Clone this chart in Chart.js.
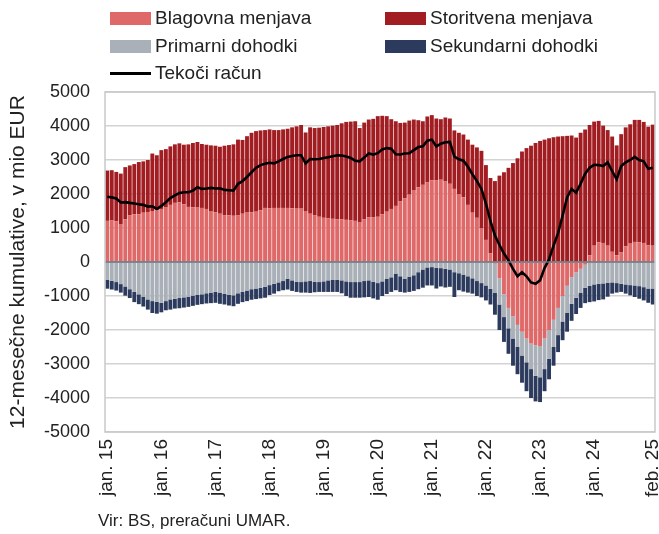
<!DOCTYPE html>
<html>
<head>
<meta charset="utf-8">
<script src="https://cdn.jsdelivr.net/npm/chart.js@4.4.1/dist/chart.umd.min.js"></script>
<style>
  html, body { margin: 0; padding: 0; background: #fff; }
  #wrap { position: relative; width: 659px; height: 534px; font-family: "Liberation Sans", Arial, sans-serif; color: #222; }
  #myChart { position: absolute; left: 0; top: 0; }
  .lg { position: absolute; font-size: 19px; line-height: 22px; white-space: nowrap; }
  .box { position: absolute; width: 41px; height: 13px; }
  .ln { position: absolute; width: 41px; height: 3px; background: #000; }
  #src { position: absolute; left: 98px; top: 511px; font-size: 17px; white-space: nowrap; }
</style>
</head>
<body>
<div id="wrap">
  <canvas id="myChart" width="659" height="534"></canvas>
  <div id="legend"></div>
  <div id="src">Vir: BS, preračuni UMAR.</div>
</div>
<script>
"use strict";

const monthNames = ["jan.", "feb.", "mar.", "apr.", "maj", "jun.", "jul.", "avg.", "sep.", "okt.", "nov.", "dec."];
const years = ["15", "16", "17", "18", "19", "20", "21", "22", "23", "24", "25"];

// blagovna menjava
const goods = [
  1210, 1220, 1200, 1100, 1260, 1380, 1400, 1400, 1450, 1470, 1500, 1520,
  1560, 1600, 1680, 1740, 1750, 1700, 1620, 1610, 1600, 1590, 1560, 1500,
  1460, 1420, 1380, 1370, 1360, 1380, 1420, 1470, 1460, 1480, 1520, 1590,
  1580, 1590, 1590, 1590, 1590, 1580, 1570, 1570, 1500, 1420, 1380, 1330,
  1300, 1280, 1270, 1260, 1250, 1240, 1230, 1210, 1160, 1250, 1320, 1320,
  1330, 1400, 1480, 1560, 1650, 1780, 1870, 1980, 2100, 2200, 2270, 2350,
  2400, 2410, 2420, 2380, 2300, 2150, 2000, 1900, 1680, 1450, 1300, 1000,
  650, 250, -50, -480, -950, -1350, -1600, -1850, -2050, -2250, -2400, -2450,
  -2470, -2250, -2000, -1700, -1350, -1000, -700, -450, -300, -200, -80, 200,
  480, 580, 560, 480, 300, 200, 280, 460, 540, 590, 580, 560,
  490, 480
];
// storitvena menjava
const services = [
  1480, 1480, 1450, 1500, 1530, 1460, 1480, 1540, 1510, 1530, 1690, 1620,
  1730, 1720, 1720, 1720, 1740, 1750, 1840, 1890, 1930, 1880, 1890, 1930,
  1960, 1970, 2040, 2070, 2100, 2220, 2170, 2230, 2340, 2370, 2350, 2290,
  2320, 2290, 2290, 2310, 2330, 2380, 2420, 2460, 2310, 2540, 2560, 2620,
  2670, 2710, 2740, 2770, 2830, 2880, 2900, 2930, 2780, 2850, 2870, 2890,
  2960, 2900, 2810, 2640, 2490, 2310, 2230, 2180, 2090, 1970, 1870, 1930,
  1920, 1810, 1780, 1870, 1920, 1720, 1800, 1850, 1920, 2000, 2070, 2270,
  2200, 2220, 2380, 2540, 2640, 2770, 2910, 3050, 3250, 3350, 3420, 3500,
  3560, 3600, 3640, 3670, 3690, 3700, 3710, 3720, 3660, 3800, 3900, 3830,
  3650, 3570, 3450, 3400, 3390, 3230, 3480, 3500, 3510, 3590, 3600, 3560,
  3490, 3560
];
// primarni dohodki
const primary = [
  -520, -550, -590, -650, -720, -800, -880, -950, -1020, -1100, -1150, -1170,
  -1200, -1150, -1100, -1080, -1060, -1040, -1020, -990, -970, -950, -920, -900,
  -880, -900, -930, -960, -980, -920, -880, -840, -800, -780, -760, -730,
  -680, -640, -600, -560, -490, -540, -580, -590, -570, -560, -580, -590,
  -570, -540, -530, -520, -540, -570, -590, -590, -590, -560, -540, -580,
  -620, -570, -500, -450, -340, -420, -490, -430, -390, -300, -220, -160,
  -150, -170, -180, -200, -220, -300, -330, -370, -420, -480, -560, -620,
  -690, -790, -850, -770, -670, -600, -650, -650, -700, -700, -750, -900,
  -920, -900, -850, -800, -800, -750, -800, -780, -750, -700, -680, -700,
  -660, -640, -630, -610, -600, -620, -640, -660, -680, -690, -710, -740,
  -780, -780
];
// sekundarni dohodki
const secondary = [
  -265, -260, -250, -250, -270, -260, -300, -290, -290, -300, -350, -350,
  -280, -270, -300, -290, -300, -300, -300, -300, -290, -290, -300, -310,
  -320, -330, -320, -320, -320, -310, -300, -310, -310, -310, -310, -320,
  -290, -290, -260, -270, -320, -310, -300, -310, -330, -350, -310, -290,
  -310, -340, -350, -360, -380, -430, -460, -460, -460, -480, -490, -490,
  -490, -430, -440, -430, -490, -460, -410, -450, -460, -500, -535, -530,
  -540, -610, -540, -550, -510, -730, -500, -500, -480, -450, -440, -420,
  -440, -460, -650, -750, -730, -750, -800, -800, -800, -850, -850, -750,
  -730, -650, -600, -550, -500, -550, -550, -500, -480, -450, -450, -480,
  -500, -480, -470, -410, -330, -280, -240, -270, -300, -340, -370, -390,
  -420, -470
];
// tekoci racun
const currentAccount = [
  1920, 1900, 1870, 1750, 1760, 1740, 1720, 1700, 1680, 1630, 1640, 1560,
  1650, 1760, 1880, 1960, 2030, 2050, 2050, 2100, 2200, 2150, 2160, 2180,
  2160, 2170, 2120, 2110, 2100, 2300, 2380, 2500, 2640, 2770, 2850, 2890,
  2920, 2900, 2960, 3030, 3090, 3120, 3140, 3140, 2900, 3030, 3020, 3030,
  3060, 3080, 3110, 3140, 3130, 3100, 3060, 2980, 2960, 3070, 3190, 3160,
  3200, 3310, 3350, 3330, 3170, 3160, 3190, 3200, 3290, 3380, 3400, 3570,
  3600, 3400, 3480, 3520, 3530, 3100, 3020, 2980, 2800, 2580, 2380, 2150,
  1720, 1200, 780, 500, 250, 50, -200, -420, -300, -420, -600, -640,
  -540, -180, 80, 480, 850, 1360, 1900, 2150, 2040, 2300, 2600, 2770,
  2860, 2850, 2820, 2930, 2670, 2430, 2820, 2930, 3000, 3090, 3000, 2960,
  2740, 2770
];

const yTicks = [-5000, 5000, 1000];

const categories = [];
for (let y = 0; y < years.length; y++) {
  for (let m = 0; m < 12; m++) {
    if (categories.length < goods.length) {
      categories.push(monthNames[m] + " " + years[y]);
    }
  }
}
const lastIdx = categories.length - 1;

const colors = {
  goods: "#DF6868",
  services: "#A11D22",
  primary: "#A9B0B8",
  secondary: "#2C3A5D",
  line: "#000000"
};

// legenda
const legendItems = [
  { text: "Blagovna menjava", color: colors.goods, x: 110, y: 18 },
  { text: "Storitvena menjava", color: colors.services, x: 385, y: 18 },
  { text: "Primarni dohodki", color: colors.primary, x: 110, y: 46 },
  { text: "Sekundarni dohodki", color: colors.secondary, x: 385, y: 46 },
  { text: "Tekoči račun", color: null, x: 110, y: 73 }
];
const legendEl = document.getElementById("legend");
for (let i = 0; i < legendItems.length; i++) {
  let it = legendItems[i];
  let mark = document.createElement("div");
  if (it.color) {
    mark.className = "box";
    mark.style.background = it.color;
    mark.style.left = it.x + "px";
    mark.style.top = (it.y - 6) + "px";
  } else {
    mark.className = "ln";
    mark.style.left = it.x + "px";
    mark.style.top = (it.y - 1) + "px";
  }
  let txt = document.createElement("div");
  txt.className = "lg";
  txt.textContent = it.text;
  txt.style.left = (it.x + 45) + "px";
  txt.style.top = (it.y - 11) + "px";
  legendEl.appendChild(mark);
  legendEl.appendChild(txt);
}

const frame = {
  id: "frame",
  afterDatasetsDraw(chart) {
    const a = chart.chartArea;
    const ctx = chart.ctx;
    const y0 = chart.scales.y.getPixelForValue(0);
    ctx.save();
    ctx.strokeStyle = "#5E6B77";
    ctx.lineWidth = 1.5;
    ctx.beginPath();
    ctx.moveTo(a.left, y0);
    ctx.lineTo(a.right, y0);
    ctx.stroke();
    ctx.strokeStyle = "#C9C9C9";
    ctx.lineWidth = 1.5;
    ctx.strokeRect(a.left, a.top, a.right - a.left, a.bottom - a.top);
    ctx.restore();
  }
};

const barOpts = { barPercentage: 0.86, categoryPercentage: 1.0, order: 1, borderWidth: 0 };

const data = {
  labels: categories,
  datasets: [
    Object.assign({ type: "bar", label: "Blagovna menjava", data: goods, backgroundColor: colors.goods }, barOpts),
    Object.assign({ type: "bar", label: "Storitvena menjava", data: services, backgroundColor: colors.services }, barOpts),
    Object.assign({ type: "bar", label: "Primarni dohodki", data: primary, backgroundColor: colors.primary }, barOpts),
    Object.assign({ type: "bar", label: "Sekundarni dohodki", data: secondary, backgroundColor: colors.secondary }, barOpts),
    {
      type: "line",
      label: "Tekoči račun",
      data: currentAccount,
      borderColor: colors.line,
      borderWidth: 2.6,
      pointRadius: 0,
      tension: 0,
      stack: "ca",
      order: 0
    }
  ]
};

const config = {
  type: "bar",
  data: data,
  plugins: [frame],
  options: {
    responsive: false,
    animation: false,
    devicePixelRatio: 1,
    layout: { padding: { top: 92, right: 4, bottom: 0, left: 0 } },
    plugins: { legend: { display: false }, tooltip: { enabled: false } },
    scales: {
      x: {
        stacked: true,
        grid: { display: false, drawTicks: false },
        border: { display: false },
        ticks: {
          autoSkip: false,
          minRotation: 90,
          maxRotation: 90,
          padding: 7,
          color: "#222",
          font: { family: "Liberation Sans", size: 19 },
          callback: function (val, i) {
            if ((i % 12 === 0 && i < lastIdx - 1) || i === lastIdx) return categories[i];
            return "";
          }
        },
        afterFit: function (s) {
          s.height = 102;
          s.paddingLeft = 0;
          s.paddingRight = 0;
        }
      },
      y: {
        stacked: true,
        min: yTicks[0],
        max: yTicks[1],
        ticks: {
          stepSize: yTicks[2],
          padding: 15,
          color: "#222",
          font: { family: "Liberation Sans", size: 18 },
          callback: function (v) { return String(v); }
        },
        grid: { color: "#D3D3D3", lineWidth: 1.5, drawTicks: false },
        border: { display: false },
        title: {
          display: true,
          text: "12-mesečne kumulative, v mio EUR",
          color: "#222",
          font: { family: "Liberation Sans", size: 21 },
          padding: { top: 6, bottom: 0 }
        },
        afterFit: function (s) {
          s.width = 105;
          s.paddingTop = 0;
          s.paddingBottom = 0;
        }
      }
    }
  }
};

const myChart = new Chart(document.getElementById("myChart"), config);
</script>
</body>
</html>
